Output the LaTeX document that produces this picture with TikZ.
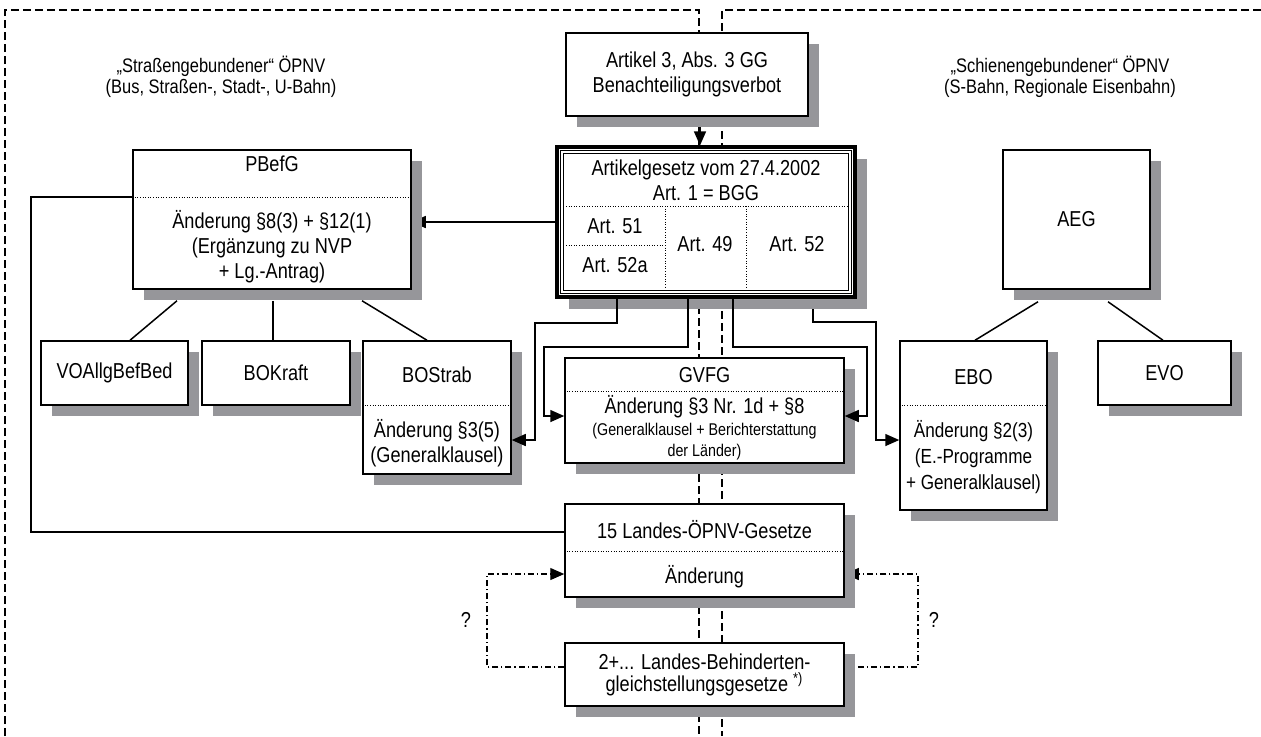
\documentclass[tikz,border=0pt]{standalone}
\usepackage{fontspec}
\setmainfont[FakeStretch=0.84]{Liberation Sans}
\usetikzlibrary{arrows.meta,shadows,positioning}
\pgfdeclarelayer{back}
\pgfsetlayers{back,main}
\definecolor{shadowgray}{RGB}{150,150,154}

\begin{document}
\begin{tikzpicture}[x=0.5pt,y=-0.5pt,
  base/.style={draw,line width=0.75pt,fill=white,inner sep=0pt,align=center,font=\fontsize{10.8}{12.5}\selectfont},
  box/.style={base,drop shadow={shadow xshift=5.5pt,shadow yshift=-5.5pt,fill=shadowgray,opacity=1}},
  txt/.style={align=center,inner sep=0pt,font=\fontsize{10.8}{12.5}\selectfont},
  small/.style={align=center,inner sep=0pt,font=\fontsize{8.5}{10.5}\selectfont},
  head/.style={align=center,inner sep=0pt,font=\fontsize{9.8}{10.5}\selectfont},
  sep/.style={line width=0.4pt,dash pattern=on 0.5pt off 0.8pt},
  link/.style={line width=0.75pt},
  arr/.style={link,-{Triangle[length=7pt,width=6pt]}},
  dd/.style={line width=0.6pt,dash pattern=on 3pt off 1.5pt on 0.6pt off 1.5pt},
  frame/.style={line width=0.8pt,dash pattern=on 4pt off 2pt}]

\useasboundingbox (0,0) rectangle (1261,736);

% dashed frames
\begin{pgfonlayer}{back}
\draw[frame] (5,736) -- (5,10) -- (699,10) -- (699,736);
\draw[frame] (1261,10) -- (722,10) -- (722,736);
\end{pgfonlayer}

% headings
\node[head] (strasse) at (221,77) {„Straßengebundener“ ÖPNV\\(Bus, Straßen-, Stadt-, U-Bahn)};
\node[head] (schiene) at (1060,77) {„Schienengebundener“ ÖPNV\\(S-Bahn, Regionale Eisenbahn)};

% top
\node[box, minimum width=121pt, minimum height=41.5pt] (art3) at (687,74.5) {Artikel 3, Abs. 3 GG\\Benachteiligungsverbot};

% Artikelgesetz
\node[base, line width=1.6pt, minimum width=149pt, minimum height=75pt,
  drop shadow={shadow xshift=6pt,shadow yshift=-6pt,fill=shadowgray,opacity=1}] (artg) at (706,222) {};
\draw[line width=0.75pt] ([shift={(5,5)}]artg.north west) rectangle ([shift={(-5,-5)}]artg.south east);
\draw[line width=0.5pt] ([shift={(8.5,8.5)}]artg.north west) rectangle ([shift={(-8.5,-8.5)}]artg.south east);
\node[txt] (artgtitle) at (706,180) {Artikelgesetz vom 27.4.2002\\Art. 1 = BGG};
\draw[sep] (566,206) -- (847,206);
\draw[sep] (665,206) -- (665,288);
\draw[sep] (746,206) -- (746,288);
\draw[sep] (566,245) -- (665,245);
\node[txt] (a51) at (615,226) {Art. 51};
\node[txt] (a52a) at (615,265) {Art. 52a};
\node[txt] (a49) at (705,244) {Art. 49};
\node[txt] (a52) at (797,244) {Art. 52};

% strassen side
\node[box, minimum width=139pt, minimum height=69.5pt] (pbefg) at (272,219.5) {};
\node[txt] (pbefgtitle) at (272,164) {PBefG};
\draw[sep] (pbefg.west |- 0,197) -- (pbefg.east |- 0,197);
\node[txt] (pbefgbody) at (272,247) {Änderung §8(3) + §12(1)\\(Ergänzung zu NVP\\+ Lg.-Antrag)};

\node[box, minimum width=73.5pt, minimum height=32pt] (voa) at (114.5,373) {VOAllgBefBed};
\node[box, minimum width=74pt, minimum height=32pt] (bokraft) at (276,373) {BOKraft};
\node[box, minimum width=74pt, minimum height=66.5pt] (bostrab) at (437,407.5) {};
\node[txt] (bostrabtitle) at (437,375) {BOStrab};
\draw[sep] (bostrab.west |- 0,405) -- (bostrab.east |- 0,405);
\node[txt] (bostrabbody) at (437,443.5) {Änderung §3(5)\\(Generalklausel)};

% middle
\node[box, minimum width=139.5pt, minimum height=52.5pt] (gvfg) at (704.5,410.5) {};
\node[txt] (gvfgtitle) at (704.5,375) {GVFG};
\draw[sep] (gvfg.west |- 0,391) -- (gvfg.east |- 0,391);
\node[txt] (gvfgbody) at (704.5,407) {Änderung §3 Nr. 1d + §8};
\node[small] (gvfgnote) at (704.5,441.5) {(Generalklausel + Berichterstattung\\der Länder)};

\node[box, minimum width=139.5pt, minimum height=46.5pt] (landes) at (704.5,550.5) {};
\node[txt] (landestitle) at (704.5,530) {15 Landes-ÖPNV-Gesetze};
\draw[sep] (landes.west |- 0,551) -- (landes.east |- 0,551);
\node[txt] (landesbody) at (704.5,577) {Änderung};

\node[box, minimum width=139.5pt, minimum height=31.5pt, font=\fontsize{10.8}{11}\selectfont] (bgg) at (704.5,674.5) {2+... Landes-Behinderten-\\gleichstellungsgesetze \textsuperscript{*)}};

% schienen side
\node[box, minimum width=73.5pt, minimum height=69.5pt] (aeg) at (1076.5,219.5) {AEG};
\node[box, minimum width=73.5pt, minimum height=84.5pt] (ebo) at (973.5,425.5) {};
\node[txt] (ebotitle) at (973.5,377) {EBO};
\draw[sep] (ebo.west |- 0,405) -- (ebo.east |- 0,405);
\node[txt, font=\fontsize{10.2}{12.8}\selectfont] (ebobody) at (973.5,457) {Änderung §2(3)\\(E.-Programme\\+ Generalklausel)};
\node[box, minimum width=66.5pt, minimum height=32pt] (evo) at (1164.5,373) {EVO};

\node[txt] (q1) at (466,620) {?};
\node[txt] (q2) at (934,620) {?};

% connectors under the shadows
\begin{pgfonlayer}{back}
\draw[arr] (art3.south -| 700,0) -- (artg.north -| 700,0);
\draw[arr] (artg.west) -- (pbefg.east |- artg.west);
\draw[arr] (artg.south -| 813,0) |- (876,322) |- (ebo.west |- 0,440);
\draw[dd,-{Triangle[length=7pt,width=6pt]}] (bgg.east |- 0,667) -| (918,574) -- (landes.east |- 0,574);
\end{pgfonlayer}

% connectors
\draw[link] ([shift={(-95,11)}]pbefg.south) -- ([shift={(15.5,0)}]voa.north);
\draw[link] ([shift={(1,11)}]pbefg.south) -- ([shift={(-3,0)}]bokraft.north);
\draw[link] ([shift={(90,11)}]pbefg.south) -- ([shift={(-10,0)}]bostrab.north);
\draw[link] ([shift={(-38.5,12)}]aeg.south) -- ([shift={(1.5,0)}]ebo.north);
\draw[link] ([shift={(31.5,12)}]aeg.south) -- ([shift={(-1.5,0)}]evo.north);

\draw[arr] (artg.south -| 617,0) |- (535,323) |- (bostrab.east |- 0,440);
\draw[arr] (artg.south -| 688,0) |- (544,347) |- (gvfg.west |- 0,416);
\draw[arr] (artg.south -| 733,0) |- (867,347) |- (gvfg.east |- 0,416);

\draw[link] (pbefg.west |- 0,197) -| (31,532) -- (landes.west |- 0,532);
\draw[dd,-{Triangle[length=7pt,width=6pt]}] (bgg.west |- 0,667) -| (487,574) -- (landes.west |- 0,574);

\end{tikzpicture}
\end{document}
